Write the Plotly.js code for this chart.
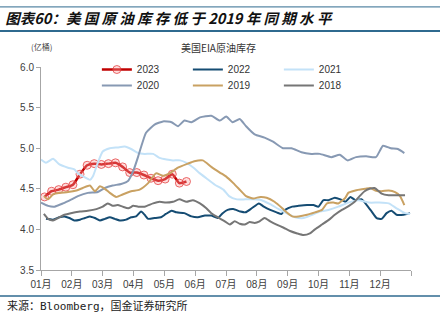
<!DOCTYPE html>
<html><head><meta charset="utf-8">
<script src="https://cdn.plot.ly/plotly-3.0.1.min.js"></script>
<style>body{margin:0;background:#fff}#c{width:440px;height:323px}</style>
</head><body><div id="c"></div>
<script>
// x values are week positions in the year (0 = start of Jan), y values in 亿桶
const monthLabels = ["01月","02月","03月","04月","05月","06月","07月","08月","09月","10月","11月","12月",""];

const wk2023 = [0.5,1.5,2.5,3.5,4.5,5.5,6.5,7.5,8.5,9.5,10.5,11.5,12.5,13.5,14.5,15.5,16.5,17.5,18.5,19.5,20.5];
const v2023  = [4.40,4.47,4.49,4.52,4.55,4.68,4.79,4.81,4.80,4.81,4.82,4.77,4.70,4.70,4.67,4.63,4.60,4.62,4.68,4.57,4.59];

const wk2022 = [0.7,1.7,2.6,3.3,4.0,4.7,5.5,6.2,6.9,7.6,8.3,9.0,9.7,10.4,11.1,12.0,12.7,13.4,14.1,14.6,15.1,16.0,16.9,17.6,18.4,19.1,20.2,21.2,22.1,23.1,24.0,24.9,25.6,26.3,27.1,28.1,28.8,29.7,30.7,31.4,32.3,33.2,33.9,34.4,35.4,36.3,37.5,38.4,39.1,39.8,40.5,41.4,42.2,42.9,43.6,44.3,45.2,45.9,46.6,47.3,48.0,48.7,49.4,50.1,51.1,52.0];
const v2022  = [4.13,4.12,4.15,4.16,4.14,4.11,4.12,4.14,4.16,4.14,4.11,4.13,4.15,4.13,4.11,4.12,4.15,4.16,4.22,4.18,4.13,4.14,4.15,4.19,4.23,4.21,4.20,4.16,4.15,4.17,4.17,4.14,4.20,4.24,4.25,4.22,4.21,4.26,4.32,4.28,4.24,4.21,4.19,4.24,4.28,4.29,4.30,4.30,4.28,4.36,4.36,4.39,4.37,4.34,4.40,4.36,4.37,4.30,4.22,4.14,4.13,4.20,4.23,4.18,4.18,4.20];

const wk2021 = [0.0,0.7,1.7,2.6,3.8,4.7,5.2,6.2,6.9,7.3,8.0,8.7,9.7,10.8,11.8,12.7,13.7,14.6,15.8,16.7,17.7,18.6,19.6,20.5,21.5,22.4,23.3,24.5,25.7,26.5,27.6,28.8,30.0,31.1,32.3,33.5,34.6,35.8,37.0,38.2,39.3,40.5,41.9,43.3,44.7,46.2,47.6,49.0,50.1,51.3,52.0];
const v2021  = [4.86,4.82,4.87,4.80,4.76,4.74,4.69,4.64,4.61,4.65,4.82,4.96,5.00,5.01,5.02,4.99,4.94,4.93,4.93,4.88,4.86,4.85,4.85,4.82,4.76,4.69,4.63,4.55,4.49,4.41,4.37,4.37,4.37,4.36,4.31,4.25,4.20,4.15,4.14,4.18,4.22,4.24,4.28,4.33,4.36,4.33,4.33,4.32,4.26,4.20,4.19];

const wk2020 = [0.0,1.0,1.9,3.1,4.3,5.2,6.6,8.0,9.0,10.1,11.3,12.3,13.0,13.7,14.3,14.8,16.0,17.2,18.4,19.3,20.2,21.2,22.4,24.0,25.2,26.1,27.0,28.0,28.9,30.1,31.5,32.7,34.1,35.3,36.7,38.1,39.3,40.9,42.1,43.2,44.4,45.8,47.2,48.2,49.3,50.3,51.2];
const v2020  = [4.33,4.29,4.28,4.32,4.37,4.41,4.45,4.46,4.51,4.54,4.56,4.60,4.72,4.90,5.07,5.19,5.29,5.33,5.32,5.27,5.34,5.32,5.38,5.40,5.34,5.39,5.32,5.36,5.27,5.17,5.13,5.08,5.00,5.00,4.95,4.93,4.93,4.89,4.92,4.85,4.89,4.90,4.89,5.03,5.00,4.99,4.94];

const wk2019 = [0.4,1.0,1.7,2.6,3.8,5.0,5.9,6.9,7.6,8.3,9.0,9.7,10.6,11.5,12.7,13.9,15.1,16.2,17.2,18.1,19.3,20.7,21.6,22.8,24.0,25.2,26.1,27.1,28.1,28.9,29.9,30.9,31.8,32.9,34.0,34.6,35.4,36.3,37.5,38.6,39.6,40.3,41.2,41.9,42.9,43.3,44.3,45.7,46.4,47.1,48.0,49.0,49.9,50.6,51.2];
const v2019  = [4.41,4.37,4.43,4.45,4.46,4.48,4.51,4.54,4.47,4.53,4.50,4.45,4.40,4.43,4.47,4.49,4.57,4.69,4.66,4.69,4.76,4.81,4.84,4.85,4.77,4.70,4.65,4.57,4.48,4.41,4.38,4.40,4.39,4.34,4.26,4.21,4.16,4.16,4.18,4.21,4.24,4.32,4.33,4.32,4.39,4.45,4.48,4.50,4.51,4.48,4.47,4.48,4.46,4.41,4.30];

const wk2018 = [0.4,1.0,1.7,2.4,3.3,4.2,5.5,6.6,7.8,8.7,9.4,10.1,10.8,11.5,12.3,13.0,13.7,14.6,15.8,16.7,17.6,18.6,19.5,20.5,21.4,22.4,23.3,24.0,24.9,25.9,26.6,27.3,28.0,28.7,29.4,30.1,30.8,31.5,32.3,33.2,34.2,35.1,36.1,37.0,37.9,38.6,39.6,40.6,41.4,42.4,43.4,44.2,44.9,45.6,46.3,47.0,47.6,48.0,49.0,49.9,51.3];
const v2018  = [4.19,4.13,4.11,4.14,4.18,4.20,4.22,4.23,4.25,4.28,4.32,4.29,4.30,4.28,4.26,4.29,4.28,4.28,4.32,4.34,4.33,4.34,4.37,4.34,4.36,4.32,4.26,4.20,4.15,4.10,4.06,4.10,4.07,4.06,4.09,4.08,4.10,4.14,4.10,4.06,4.02,3.98,3.95,3.93,3.95,4.00,4.06,4.12,4.18,4.24,4.29,4.34,4.41,4.47,4.50,4.51,4.47,4.44,4.42,4.42,4.42];

const yearLen = 52.14;
const tickVals = monthLabels.map((_, i) => i * yearLen / 12);

function line(name, x, y, color, legendId) {
  return {type:'scatter', mode:'lines', name:name, x:x, y:y, legend:legendId,
    line:{color:color, width:2, shape:'spline', smoothing:0.5}, hoverinfo:'skip'};
}

const t2023 = {type:'scatter', mode:'lines+markers', name:'2023', x:wk2023, y:v2023, legend:'legend',
  line:{color:'#c00000', width:2.5, shape:'spline', smoothing:0.5},
  marker:{symbol:'circle', size:8, color:'rgba(255,160,160,0.35)', line:{color:'rgba(225,60,60,0.75)', width:1}}};

const traces = [
  t2023,
  line('2022', wk2022, v2022, '#154c73', 'legend'),
  line('2021', wk2021, v2021, '#c3e2f8', 'legend'),
  line('2020', wk2020, v2020, '#8799b3', 'legend2'),
  line('2019', wk2019, v2019, '#c9a162', 'legend2'),
  line('2018', wk2018, v2018, '#767676', 'legend2')
];

const lineColor = '#2f6a8f';
const legendBase = {orientation:'h', x:0.151, xanchor:'left', yanchor:'top',
  entrywidth:46, entrywidthmode:'pixels', bgcolor:'rgba(0,0,0,0)',
  font:{size:10, color:'#333'}, itemwidth:30};

const layout = {
  width:440, height:323,
  margin:{l:41, r:29, t:67, b:53},
  paper_bgcolor:'#fff', plot_bgcolor:'#fff',
  font:{family:'Liberation Sans, Arial, Noto Sans CJK SC, sans-serif', size:10, color:'#404040'},
  title:{text:'图表60：美 国 原 油 库 存 低 于 2019 年 同 期 水 平', xref:'container', yref:'container',
    x:0.012, xanchor:'left', y:0.94, yanchor:'middle',
    font:{family:'Noto Sans CJK SC, sans-serif', size:14.5, color:'#111', weight:'bold', style:'italic'}},
  showlegend:true,
  legend:Object.assign({}, legendBase, {y:1.059}),
  legend2:Object.assign({}, legendBase, {y:0.980}),
  xaxis:{range:[0, yearLen], tickmode:'array', tickvals:tickVals, ticktext:monthLabels,
    showgrid:false, zeroline:false, showline:true, linecolor:'#a6a6a6', linewidth:1,
    ticks:'outside', ticklen:5, tickcolor:'#a6a6a6',
    tickfont:{family:'Liberation Sans, Noto Sans CJK SC, sans-serif', size:10, color:'#404040'}, fixedrange:true},
  yaxis:{range:[3.5, 6.0], tickvals:[3.5,4.0,4.5,5.0,5.5,6.0], ticktext:['3.5','4.0','4.5','5.0','5.5','6.0'],
    showgrid:false, zeroline:false, showline:true, linecolor:'#a6a6a6', linewidth:1,
    ticks:'outside', ticklen:4, tickcolor:'#a6a6a6',
    tickfont:{size:10, color:'#404040'}, fixedrange:true},
  shapes:[
    {type:'line', xref:'paper', yref:'paper', x0:-0.111, x1:1.079, y0:1.296, y1:1.296, line:{color:lineColor, width:1}},
    {type:'line', xref:'paper', yref:'paper', x0:-0.111, x1:1.079, y0:1.177, y1:1.177, line:{color:lineColor, width:2}},
    {type:'line', xref:'paper', yref:'paper', x0:-0.111, x1:1.079, y0:-0.128, y1:-0.128, line:{color:lineColor, width:1.5}}
  ],
  annotations:[
    {text:'(亿桶)', xref:'paper', yref:'paper', x:0.0, xanchor:'center', y:1.099, yanchor:'middle', showarrow:false,
      font:{family:'Noto Sans CJK SC, sans-serif', size:8, color:'#444'}},
    {text:'美国EIA原油库存', xref:'paper', yref:'paper', x:0.481, xanchor:'center', y:1.094, yanchor:'middle', showarrow:false,
      font:{family:'Noto Sans CJK SC, sans-serif', size:10, color:'#333'}},
    {text:'来源：Bloomberg，国金证券研究所', xref:'paper', yref:'paper', x:-0.097, xanchor:'left', y:-0.177, yanchor:'middle', showarrow:false,
      font:{family:'DejaVu Sans Mono, Noto Sans CJK SC, monospace', size:11, color:'#222'}}
  ]
};

Plotly.newPlot('c', traces, layout, {staticPlot:true, displayModeBar:false});
</script></body></html>
